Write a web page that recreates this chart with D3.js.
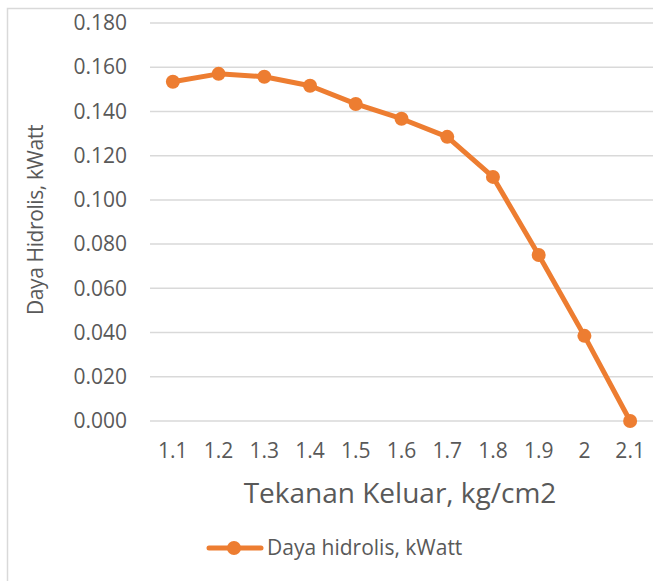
<!DOCTYPE html>
<html>
<head>
<meta charset="utf-8">
<script src="https://cdn.jsdelivr.net/npm/d3@7"></script>
<style>
  body { margin: 0; background: #fff; }
  text { font-family: "Open Sans", "Noto Sans", sans-serif; fill: #595959; }
</style>
</head>
<body>
<div id="chart"></div>
<script>
// data
var categories = ["1.1", "1.2", "1.3", "1.4", "1.5", "1.6", "1.7", "1.8", "1.9", "2", "2.1"];
var dayaHidrolis = [0.1534, 0.1570, 0.1557, 0.1516, 0.1434, 0.1367, 0.1285, 0.1104, 0.0751, 0.0385, 0.0];
var yTicks = [0, 0.02, 0.04, 0.06, 0.08, 0.10, 0.12, 0.14, 0.16, 0.18];
var seriesName = "Daya hidrolis, kWatt";

var width = 653, height = 581;
var margin = { top: 23, right: 0, bottom: 160, left: 150 };

var svg = d3.select("#chart").append("svg")
    .attr("width", width).attr("height", height);

// border of chart area
svg.append("path")
    .attr("d", "M7.5," + height + " L7.5,8.5 L" + width + ",8.5")
    .attr("fill", "none").attr("stroke", "#d9d9d9").attr("stroke-width", 1.5);

var x = d3.scaleBand().domain(categories)
    .range([margin.left, width - margin.right]);
var y = d3.scaleLinear().domain([0, 0.18])
    .range([height - margin.bottom, margin.top]);

// gridlines
svg.append("g").selectAll("line").data(yTicks).enter().append("line")
    .attr("x1", margin.left).attr("x2", width - margin.right)
    .attr("y1", function(d) { return y(d); }).attr("y2", function(d) { return y(d); })
    .attr("stroke", "#d9d9d9").attr("stroke-width", 1.5);

// y axis labels
var yAxis = d3.axisLeft(y).tickValues(yTicks).tickFormat(d3.format(".3f")).tickSize(0).tickPadding(23);
var gy = svg.append("g").attr("transform", "translate(" + margin.left + ",0)").call(yAxis);
gy.select(".domain").remove();
gy.selectAll("text").attr("font-size", "21px").style("fill", "#595959");

// x axis labels
var xAxis = d3.axisBottom(x).tickSize(0).tickPadding(22);
var gx = svg.append("g").attr("transform", "translate(0," + y(0) + ")").call(xAxis);
gx.select(".domain").remove();
gx.selectAll("text").attr("font-size", "21px").style("fill", "#595959");
gy.attr("font-family", null);
gx.attr("font-family", null);

// axis titles
svg.append("text")
    .attr("x", 400).attr("y", 503)
    .attr("text-anchor", "middle").attr("font-size", "28px")
    .text("Tekanan Keluar, kg/cm2");

svg.append("text")
    .attr("transform", "translate(43,220) rotate(-90)")
    .attr("text-anchor", "middle").attr("font-size", "21px")
    .attr("letter-spacing", "-0.4px")
    .text("Daya Hidrolis, kWatt");

// line
var cx = function(d, i) { return x(categories[i]) + x.bandwidth() / 2; };
svg.append("path")
    .datum(dayaHidrolis)
    .attr("fill", "none").attr("stroke", "#ED7D31").attr("stroke-width", 5)
    .attr("stroke-linejoin", "round")
    .attr("d", d3.line().x(cx).y(function(d) { return y(d); }));

svg.append("g").selectAll("circle").data(dayaHidrolis).enter().append("circle")
    .attr("cx", cx).attr("cy", function(d) { return y(d); })
    .attr("r", 7).attr("fill", "#ED7D31");

// legend
var lg = svg.append("g").attr("transform", "translate(207,548)");
lg.append("line").attr("x1", 2).attr("x2", 54)
    .attr("stroke", "#ED7D31").attr("stroke-width", 5).attr("stroke-linecap", "round");
lg.append("circle").attr("cx", 27).attr("r", 7).attr("fill", "#ED7D31");
lg.append("text").attr("x", 60).attr("y", 7).attr("font-size", "21px").text(seriesName);
</script>
</body>
</html>
